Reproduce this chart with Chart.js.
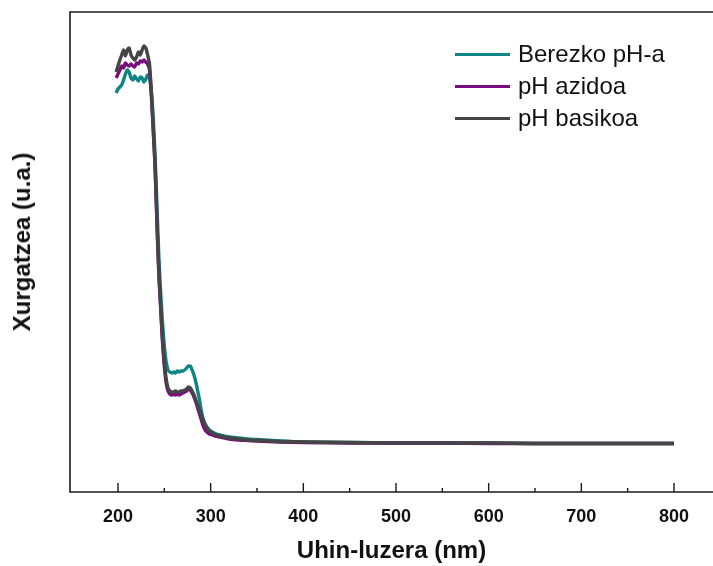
<!DOCTYPE html>
<html>
<head>
<meta charset="utf-8">
<script src="https://cdn.jsdelivr.net/npm/chart.js@4.4.1/dist/chart.umd.min.js"></script>
<style>
  html, body { margin: 0; padding: 0; background: #fff; overflow: hidden; }
  #wrap { position: relative; width: 713px; height: 566px; overflow: hidden; }
  #chart { position: absolute; left: 0; top: 0; }
  .legend { position: absolute; left: 455px; top: 38px; font-family: 'Liberation Sans', Arial, sans-serif; font-size: 24px; color: #111; }
  .legend div { display: flex; align-items: center; height: 32px; }
  .legend span.line { display: inline-block; width: 55px; height: 3px; margin-right: 8px; }
  .ytitle { position: absolute; left: 22px; top: 242px; transform: translate(-50%, -50%) rotate(-90deg);
    white-space: nowrap; font-family: 'Liberation Sans', Arial, sans-serif; font-weight: bold; font-size: 24px; color: #111; }
</style>
</head>
<body>
<div id="wrap">
  <canvas id="chart" width="713" height="566"></canvas>
  <div class="ytitle">Xurgatzea (u.a.)</div>
  <div class="legend" id="legend"></div>
</div>
<script>
// wavelengths (nm)
const wavelengths = [198,200,202,204,206,208,210,212,214,216,218,220,222,224,226,228,230,232,234,236,238,240,
  242,244,246,248,250,252,254,256,258,260,262,264,266,268,270,272,274,276,278,280,282,284,286,288,290,292,294,296,298,300,
  305,310,320,330,340,350,375,400,450,500,550,600,650,700,750,800];

// absorbance (a.u.)
const berezko = [3.99,4.03,4.05,4.07,4.12,4.18,4.22,4.20,4.14,4.12,4.16,4.13,4.11,4.15,4.14,4.10,4.13,4.17,4.14,4.00,3.74,3.37,
  2.87,2.37,2.00,1.70,1.46,1.30,1.22,1.20,1.19,1.20,1.19,1.21,1.20,1.21,1.21,1.22,1.24,1.26,1.26,1.22,1.17,1.10,1.01,0.92,0.81,0.73,0.68,0.65,0.625,0.61,
  0.585,0.57,0.55,0.54,0.53,0.525,0.51,0.50,0.495,0.49,0.49,0.49,0.485,0.485,0.485,0.485];
const azidoa = [4.14,4.18,4.22,4.26,4.24,4.29,4.27,4.26,4.28,4.26,4.25,4.29,4.28,4.31,4.30,4.32,4.30,4.28,4.22,3.97,3.62,3.25,
  2.69,2.19,1.84,1.50,1.26,1.09,1.01,0.98,0.97,0.98,0.97,0.98,0.97,0.98,0.99,1.00,1.01,1.03,1.02,0.99,0.95,0.90,0.84,0.78,0.72,0.66,0.62,0.60,0.585,0.575,
  0.56,0.55,0.53,0.52,0.515,0.51,0.50,0.495,0.49,0.49,0.49,0.485,0.485,0.485,0.485,0.485];
const basikoa = [4.20,4.26,4.32,4.37,4.42,4.36,4.42,4.44,4.37,4.34,4.32,4.35,4.40,4.37,4.42,4.46,4.44,4.37,4.28,4.00,3.64,3.27,
  2.72,2.22,1.87,1.54,1.30,1.13,1.04,1.01,1.00,1.00,1.01,1.00,1.00,1.01,1.01,1.02,1.03,1.05,1.04,1.01,0.97,0.92,0.87,0.82,0.76,0.71,0.67,0.64,0.615,0.60,
  0.575,0.56,0.54,0.53,0.52,0.515,0.505,0.50,0.495,0.49,0.49,0.49,0.485,0.485,0.485,0.485];

const majorTicks = [200, 300, 400, 500, 600, 700, 800];
const minorTicks = [250, 350, 450, 550, 650, 750];

const seriesNames = ['Berezko pH-a', 'pH azidoa', 'pH basikoa'];
const seriesColors = ['#0e8585', '#7a0d7e', '#454545'];
const seriesData = [berezko, azidoa, basikoa];

Chart.defaults.font.family = "'Liberation Sans', Arial, sans-serif";
Chart.defaults.color = '#111';

// frame (top, left, bottom) + inward ticks
const frame = {
  id: 'frame',
  afterDraw(chart) {
    const ctx = chart.ctx;
    const a = chart.chartArea;
    const xs = chart.scales.x;
    ctx.save();
    ctx.strokeStyle = '#1a1a1a';
    ctx.lineWidth = 1.6;
    ctx.beginPath();
    ctx.moveTo(chart.width, a.top);
    ctx.lineTo(a.left, a.top);
    ctx.lineTo(a.left, a.bottom);
    ctx.lineTo(chart.width, a.bottom);
    ctx.stroke();
    ctx.lineWidth = 1.4;
    ctx.beginPath();
    majorTicks.forEach(v => {
      const px = xs.getPixelForValue(v);
      ctx.moveTo(px, a.bottom);
      ctx.lineTo(px, a.bottom - 9);
    });
    minorTicks.forEach(v => {
      const px = xs.getPixelForValue(v);
      ctx.moveTo(px, a.bottom);
      ctx.lineTo(px, a.bottom - 4);
    });
    ctx.stroke();
    ctx.restore();
  }
};

const ctx = document.getElementById('chart').getContext('2d');
const chart = new Chart(ctx, {
  type: 'line',
  data: {
    datasets: seriesData.map((arr, i) => ({
      label: seriesNames[i],
      data: wavelengths.map((w, j) => ({ x: w, y: arr[j] })),
      borderColor: seriesColors[i],
      backgroundColor: seriesColors[i],
      borderWidth: 3.4,
      pointRadius: 0,
      tension: 0.2,
      order: 3 - i
    }))
  },
  options: {
    responsive: false,
    animation: false,
    layout: { padding: { top: 12, right: 0, left: 0, bottom: 0 } },
    plugins: {
      legend: { display: false },
      tooltip: { enabled: false }
    },
    scales: {
      x: {
        type: 'linear',
        min: 148.2,
        max: 842.1,
        grid: { display: false, drawTicks: false },
        border: { display: false },
        afterBuildTicks: s => { s.ticks = majorTicks.map(v => ({ value: v })); },
        ticks: {
          padding: 14,
          font: { size: 18, weight: 'bold' },
          color: '#111',
          maxRotation: 0,
          autoSkip: false
        },
        title: {
          display: true,
          text: 'Uhin-luzera (nm)',
          font: { size: 24, weight: 'bold' },
          color: '#111',
          padding: { top: 0, bottom: 0 }
        },
        afterFit: s => { s.height = 74; }
      },
      y: {
        min: 0,
        max: 4.8,
        grid: { display: false, drawTicks: false },
        border: { display: false },
        ticks: { display: false },
        afterFit: s => { s.width = 70; }
      }
    }
  },
  plugins: [frame]
});

// legend
const legend = document.getElementById('legend');
seriesNames.forEach((name, i) => {
  const row = document.createElement('div');
  row.innerHTML = `<span class="line" style="background:${seriesColors[i]}"></span><span>${name}</span>`;
  legend.appendChild(row);
});
</script>
</body>
</html>
